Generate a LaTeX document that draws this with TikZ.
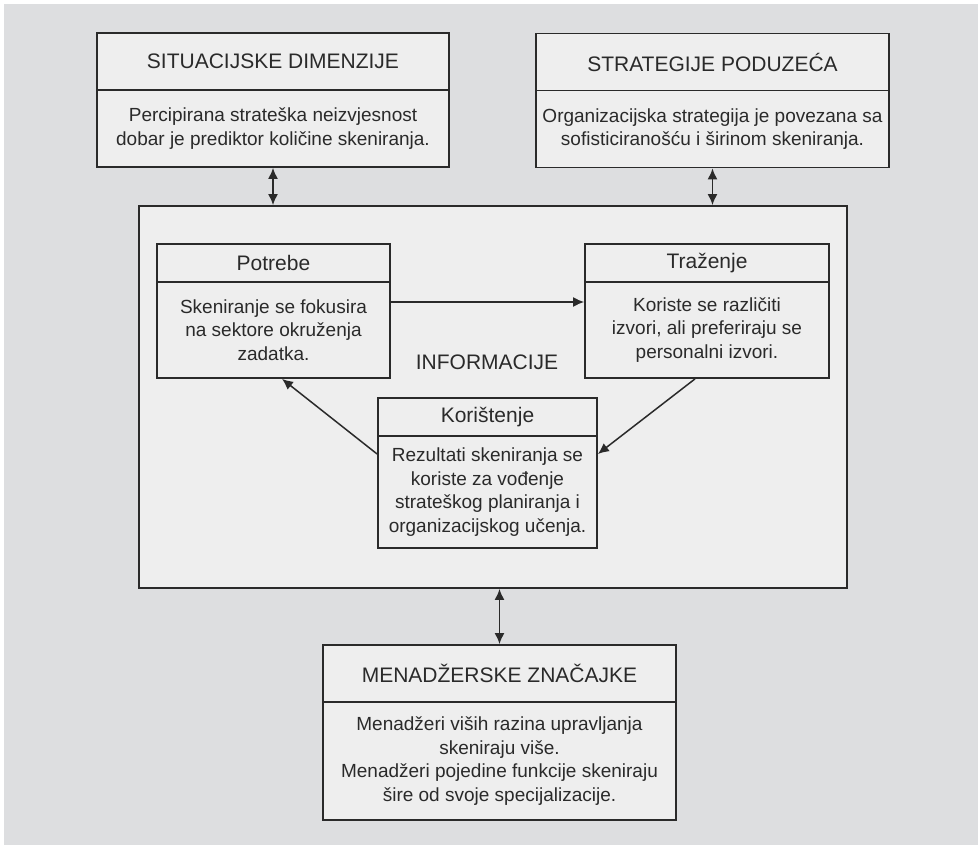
\documentclass[tikz,border=0pt]{standalone}
\usepackage{fontspec}
\setmainfont{Liberation Sans}
\usetikzlibrary{arrows.meta}
\pgfdeclarelayer{background}
\pgfdeclarelayer{edgelayer}
\pgfdeclarelayer{nodelayer}
\pgfsetlayers{background,edgelayer,nodelayer,main}
\definecolor{pagegray}{HTML}{DDDEE0}
\definecolor{boxgray}{HTML}{EEEEEE}
\definecolor{ink}{HTML}{2A2A2A}
\tikzstyle{frame}=[rectangle,draw=ink,fill=boxgray,line width=1.8pt,inner sep=0pt,text=ink]
\tikzstyle{head}=[style=frame,font=\fontsize{21}{25}\selectfont]
\tikzstyle{body}=[style=frame,align=center,font=\fontsize{19}{23.5}\selectfont]
\tikzstyle{link}=[-{Latex[length=11pt,width=10pt]},draw=ink,line width=1.5pt]
\tikzstyle{twoway}=[{Latex[length=11pt,width=10pt]}-{Latex[length=11pt,width=10pt]},draw=ink,line width=1.6pt]

\begin{document}
\begin{tikzpicture}[x=1pt,y=-1pt]
	\useasboundingbox (0,0) rectangle (978,845);
	\begin{pgfonlayer}{background}
		\fill [white] (0,0) rectangle (978,845);
		\fill [pagegray] (4,4) rectangle (978,845);
		\node [style=frame,minimum width=708pt,minimum height=382pt] (info) at (493,397) {};
	\end{pgfonlayer}
	\begin{pgfonlayer}{nodelayer}
		\node [style=head,minimum width=352pt,minimum height=57pt] (sith) at (273,61.5) {SITUACIJSKE DIMENZIJE};
		\node [style=body,minimum width=352pt,minimum height=77pt] (sitb) at (273,128.5) {Percipirana strateška neizvjesnost\\dobar je prediktor količine skeniranja.};
		\node [style=head,minimum width=353pt,minimum height=57pt] (strh) at (712.5,62) {STRATEGIJE PODUZEĆA};
		\node [style=body,minimum width=353pt,minimum height=77pt] (strb) at (712.5,129) {Organizacijska strategija je povezana sa\\sofisticiranošću i širinom skeniranja.};
		\node [text=ink,font=\fontsize{21}{25}\selectfont] (infot) at (487,362) {INFORMACIJE};
		\node [style=head,minimum width=233pt,minimum height=38pt] (poth) at (273.5,263) {Potrebe};
		\node [style=body,minimum width=233pt,minimum height=96pt] (potb) at (273.5,330) {Skeniranje se fokusira\\na sektore okruženja\\zadatka.};
		\node [style=head,minimum width=244pt,minimum height=38pt] (trazh) at (707,263) {Traženje};
		\node [style=body,minimum width=244pt,minimum height=96pt] (trazb) at (707,330) {Koriste se različiti\\izvori, ali preferiraju se\\personalni izvori.};
		\node [style=head,minimum width=219pt,minimum height=38pt] (korh) at (487.5,417) {Korištenje};
		\node [style=body,minimum width=219pt,minimum height=112pt] (korb) at (487.5,492) {Rezultati skeniranja se\\koriste za vođenje\\strateškog planiranja i\\organizacijskog učenja.};
		\node [style=head,minimum width=353pt,minimum height=57pt] (menh) at (499.5,673.5) {MENADŽERSKE ZNAČAJKE};
		\node [style=body,minimum width=353pt,minimum height=118pt] (menb) at (499.5,761) {Menadžeri viših razina upravljanja\\skeniraju više.\\Menadžeri pojedine funkcije skeniraju\\šire od svoje specijalizacije.};
	\end{pgfonlayer}
	\begin{pgfonlayer}{edgelayer}
		\draw [style=twoway] (sitb.south) to (sitb.south |- info.north);
		\draw [style=twoway] (strb.south) to (strb.south |- info.north);
		\draw [style=twoway] (menh.north |- info.south) to (menh.north);
		\draw [style=link] ([yshift=28pt]potb.east) to ([yshift=28pt]trazb.west);
		\draw [style=link] ([xshift=-12pt]trazb.south) to ([yshift=38pt]korb.east);
		\draw [style=link] ([yshift=38pt]korb.west) to ([xshift=8.5pt]potb.south);
	\end{pgfonlayer}
\end{tikzpicture}
\end{document}
